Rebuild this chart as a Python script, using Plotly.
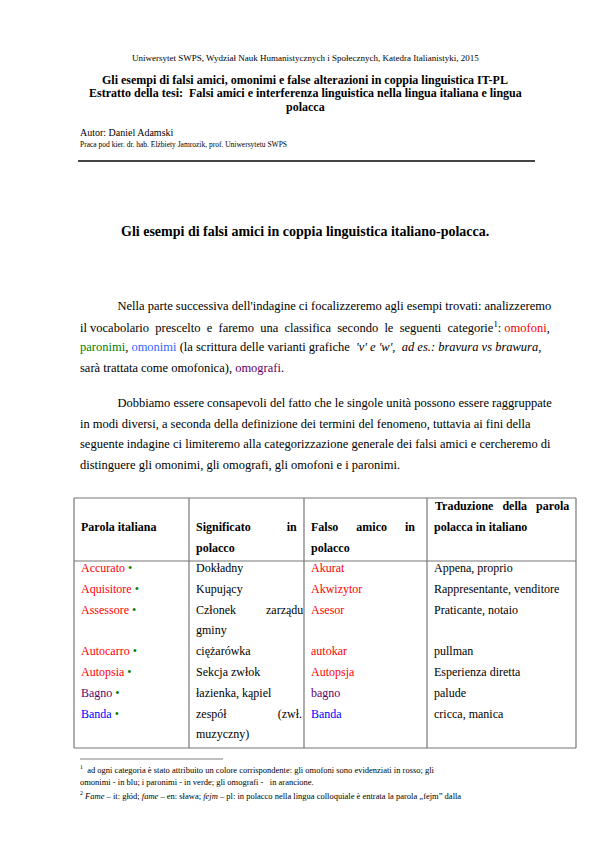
import plotly.graph_objects as go

# table content
italian = ["Accurato", "Aquisitore", "Assessore", "Autocarro", "Autopsia", "Bagno", "Banda"]
word_colors = ["red", "red", "red", "red", "red", "#660066", "blue"]
polish_meaning = [["Dokładny"], ["Kupujący"], ["Członek          zarządu", "gminy"],
                  ["ciężarówka"], ["Sekcja zwłok"], ["łazienka, kąpiel"],
                  ["zespół                 (zwł.", "muzyczny)"]]
false_friend = ["Akurat", "Akwizytor", "Asesor", "autokar", "Autopsja", "bagno", "Banda"]
translation = ["Appena, proprio", "Rappresentante, venditore", "Praticante, notaio",
               "pullman", "Esperienza diretta", "palude", "cricca, manica"]

col_x = [66, 181, 296, 419, 568]
FONT = "Liberation Serif, DejaVu Serif, serif"

fig = go.Figure()
fig.update_xaxes(range=[0, 595], visible=False)
fig.update_yaxes(range=[834, -8], visible=False)
fig.update_layout(width=595, height=842, margin=dict(l=0, r=0, t=0, b=0),
                  plot_bgcolor="white", paper_bgcolor="white", showlegend=False,
                  font=dict(family=FONT, color="black"))

def txt(x, y, s, size=12, anchor="left", bold=False, color="black"):
    if bold:
        s = "<b>" + s + "</b>"
    fig.add_annotation(x=x, y=y, text=s, showarrow=False, xanchor=anchor, yanchor="middle",
                       font=dict(size=size, color=color, family=FONT))

# header
txt(297, 42, "Uniwersytet SWPS, Wydział Nauk Humanistycznych i Społecznych, Katedra Italianistyki, 2015", 9, "center")
txt(297, 64, "Gli esempi di falsi amici, omonimi e false alterazioni in coppia linguistica IT-PL", 12, "center", True)
txt(297, 77, "Estratto della tesi:  Falsi amici e interferenza linguistica nella lingua italiana e lingua", 12, "center", True)
txt(297, 91, "polacca", 12, "center", True)
txt(70, 116, "Autor: Daniel Adamski", 10)
txt(70, 128, "Praca pod kier. dr. hab. Elżbiety Jamrozik, prof. Uniwersytetu SWPS", 7.5)
fig.add_shape(type="line", x0=70, x1=527, y0=145, y1=145, line=dict(color="#444", width=2))
txt(297, 215, "Gli esempi di falsi amici in coppia linguistica italiano-polacca.", 14, "center", True)

# body paragraphs
body1 = ["            Nella parte successiva dell'indagine ci focalizzeremo agli esempi trovati: analizzeremo",
         "il vocabolario  prescelto  e  faremo  una  classifica  secondo  le  seguenti  categorie<sup>1</sup>: <span style='color:red'>omofoni</span>,",
         "<span style='color:green'>paronimi</span>, <span style='color:#3366ff'>omonimi</span> (la scrittura delle varianti grafiche  <i>'v' e 'w',  ad es.: bravura vs brawura,</i>",
         "sarà trattata come omofonica), <span style='color:#660066'>omografi</span>."]
body2 = ["            Dobbiamo essere consapevoli del fatto che le singole unità possono essere raggruppate",
         "in modi diversi, a seconda della definizione dei termini del fenomeno, tuttavia ai fini della",
         "seguente indagine ci limiteremo alla categorizzazione generale dei falsi amici e cercheremo di",
         "distinguere gli omonimi, gli omografi, gli omofoni e i paronimi."]
for i, s in enumerate(body1):
    txt(70, 290 + i * 20.5, s, 12.5)
for i, s in enumerate(body2):
    txt(70, 387 + i * 20.5, s, 12.5)

# table grid
top, head_bot, bot = 482, 545, 732
for x in col_x:
    fig.add_shape(type="line", x0=x, x1=x, y0=top, y1=bot, line=dict(color="#777", width=1.2))
for y in [top, head_bot, bot]:
    fig.add_shape(type="line", x0=col_x[0], x1=col_x[-1], y0=y, y1=y, line=dict(color="#777", width=1.2))

txt(71, 511, "Parola italiana", 12, bold=True)
txt(186, 511, "Significato            in", 12, bold=True)
txt(186, 532, "polacco", 12, bold=True)
txt(301, 511, "Falso      amico      in", 12, bold=True)
txt(301, 532, "polacco", 12, bold=True)
txt(425, 490, "Traduzione   della   parola", 12, bold=True)
txt(424, 511, "polacca in italiano", 12, bold=True)

y = 552
for w, c, pm, ff, tr in zip(italian, word_colors, polish_meaning, false_friend, translation):
    txt(71, y, w + "<span style='color:green'> •</span>", 12, color=c)
    txt(301, y, ff, 12, color=c)
    txt(424, y, tr, 12)
    for k, line in enumerate(pm):
        txt(186, y + k * 20.8, line, 12)
    y += 20.8 * len(pm)

# footnotes
fig.add_shape(type="line", x0=72, x1=215, y0=743, y1=743, line=dict(color="#aaa", width=1.5))
txt(70, 753, "<sup>1</sup>  ad ogni categoria è stato attribuito un colore corrispondente: gli omofoni sono evidenziati in rosso; gli", 8.5)
txt(70, 766, "omonimi - in blu; i paronimi - in verde; gli omografi -   in arancione.", 8.5)
txt(70, 779, "<sup>2</sup> <i>Fame</i> – it: głód; <i>fame</i> – en: sława; <i>fejm</i> – pl: in polacco nella lingua colloquiale è entrata la parola „fejm” dalla", 8.5)

fig.write_html("out.html")
